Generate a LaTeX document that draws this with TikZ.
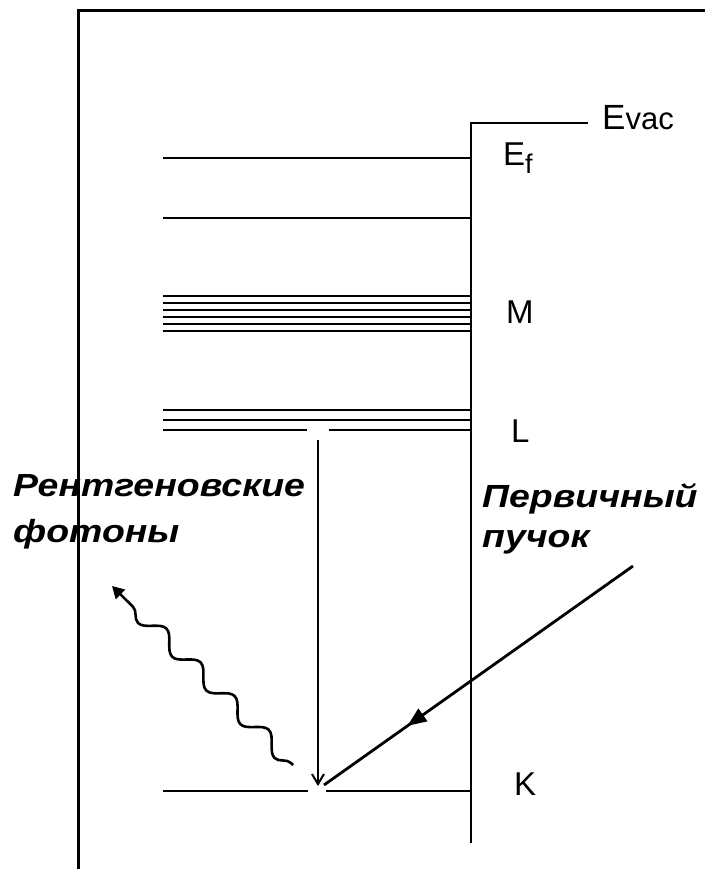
\documentclass[tikz,border=0pt]{standalone}
\usepackage{fontspec}
\setmainfont{Liberation Sans}
\newfontfamily\labfont[FakeStretch=1.17]{Liberation Sans}
\usetikzlibrary{arrows.meta,decorations.pathmorphing,decorations.markings}
\begin{document}
\begin{tikzpicture}[x=1pt,y=-1pt,
  frame/.style={line width=3pt},
  lvl/.style={line width=2.4pt},
  mline/.style={line width=2pt},
  lbl/.style={anchor=base west, inner sep=0pt, font=\fontsize{33}{33}\selectfont},
  blab/.style={anchor=base west, inner sep=0pt, align=left, font=\labfont\bfseries\itshape\fontsize{32}{32}\selectfont}
]
\useasboundingbox (0,0) rectangle (705,869);
% frame
\coordinate (fr1) at (78,869);
\coordinate (fr2) at (78,11);
\coordinate (fr3) at (705,11);
\draw[frame] (fr1) -- (fr2) -- (fr3);
% right wall and vacuum level
\coordinate (wb) at (471,843);
\coordinate (wt) at (471,123);
\coordinate (ve) at (588,123);
\draw[lvl] (wb) -- (wt) -- (ve);
% levels
\draw[lvl] (163,158) -- (471,158);
\draw[lvl] (163,218) -- (471,218);
\foreach \y in {296,303,310,317,324,331} \draw[mline] (163,\y) -- (471,\y);
\draw[lvl] (163,410) -- (471,410);
\draw[lvl] (163,420) -- (471,420);
\draw[lvl] (163,430) -- (307,430);
\draw[lvl] (329,430) -- (471,430);
\draw[lvl] (163,791) -- (308,791);
\draw[lvl] (326,791) -- (471,791);
% labels
\node[lbl] (evac) at (602,130) {{\fontsize{35}{35}\selectfont E}{\fontsize{31}{31}\selectfont vac}};
\node[lbl] (ef) at (503,165) {E\raisebox{-8pt}{\fontsize{27}{27}\selectfont f}};
\node[lbl] (lm) at (506,323) {M};
\node[lbl] (ll) at (511,442) {L};
\node[lbl] (lk) at (514,795) {K};
% transition arrow
\coordinate (ts) at (318,440);
\coordinate (te) at (318,786);
\draw[lvl,-{Straight Barb[length=10pt,width=12pt,line width=2pt]}] (ts) -- (te);
% primary beam
\coordinate (bs) at (633,566);
\coordinate (be) at (324,785);
\draw[line width=2.8pt, decoration={markings, mark=at position 0.73 with {\arrow{Triangle[length=19pt,width=15pt]}}}, postaction={decorate}] (bs) -- (be);
% x-ray photon
\coordinate (ps) at (293,765);
\coordinate (pe) at (112,586);
\draw[line width=2.6pt, -{Triangle[length=12pt,width=13pt]}, decorate, decoration={snake, segment length=48pt, amplitude=8pt, pre length=3pt, post length=9pt}] (ps) -- (pe);
% texts
\node[blab] (xr) at (13,542) {Рентгеновские\\[14pt]фотоны};
\node[blab] (pb) at (482,547) {Первичный\\[8pt]пучок};
\end{tikzpicture}
\end{document}
